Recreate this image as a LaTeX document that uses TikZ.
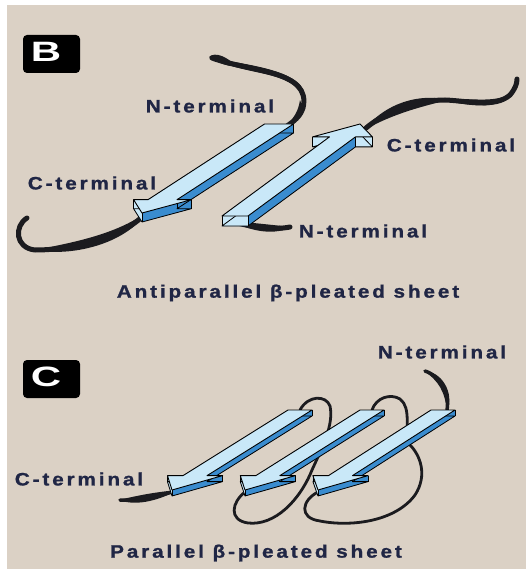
\documentclass[tikz,border=0pt]{standalone}
\usepackage{fontspec}
\setmainfont{Liberation Sans}
\newfontfamily\labelfont{Liberation Sans Bold}[FakeStretch=1.15,LetterSpace=16,FakeBold=1.2]
\newfontfamily\tagfont{Liberation Sans Bold}[FakeStretch=1.5]
\usetikzlibrary{calc}

\definecolor{paper}{HTML}{DBD1C5}
\definecolor{facelight}{HTML}{C9E8F8}
\definecolor{facedark}{HTML}{3A8CCF}
\definecolor{ink}{HTML}{1B1B1F}
\definecolor{labelink}{HTML}{202645}

\tikzset{
  tag/.style={fill=black, rounded corners=4pt, minimum width=57pt, minimum height=38pt,
    inner sep=0pt},
  tagletter/.style={text=white, inner sep=0pt, font=\tagfont\fontsize{28}{28}\selectfont},
  lbl/.style={inner sep=0pt, text=labelink, font=\labelfont\fontsize{18}{18}\selectfont},
  chain/.style={draw=ink, line width=5pt, line cap=round, line join=round},
  thinchain/.style={draw=ink, line width=2.8pt, line cap=round, line join=round},
  topface/.style={fill=facelight, draw=black, line width=0.9pt, line join=round},
  sideface/.style={fill=facedark},
  capface/.style={fill=facelight},
  rim/.style={draw=black, line width=0.8pt, line join=round},
}

% A beta strand drawn as a flat arrow plate with a thickness.
% #1 name, #2 tail centre, #3 tip, #4 half-width vector, #5 head base (fraction),
% #6 head widening factor, #7 thickness, #8 end faces that are drawn light
\newcommand\strand[8]{%
  \coordinate (#1-t) at #2;
  \coordinate (#1-p) at #3;
  \coordinate (#1-a) at ($(#1-t)+#4$);
  \coordinate (#1-b) at ($(#1-t)-#4$);
  \coordinate (#1-m) at ($(#1-t)!#5!(#1-p)$);
  \coordinate (#1-c) at ($(#1-m)+#4$);
  \coordinate (#1-d) at ($(#1-m)-#4$);
  \coordinate (#1-e) at ($(#1-m)+#6*#4$);
  \coordinate (#1-f) at ($(#1-m)-#6*#4$);
  \foreach \u in {a,b,c,d,e,f,p} {\coordinate (#1-\u') at ($(#1-\u)+(0,#7)$);}
  % side walls
  \fill[sideface] (#1-a') -- (#1-c') -- (#1-e') -- (#1-p') -- (#1-f') -- (#1-d') -- (#1-b') -- cycle;
  \foreach \u/\v in {a/c,c/e,e/p,p/f,f/d,d/b,b/a}
    {\fill[sideface] (#1-\u) -- (#1-\v) -- (#1-\v') -- (#1-\u') -- cycle;}
  \foreach \u/\v in {#8}
    {\fill[capface] (#1-\u) -- (#1-\v) -- (#1-\v') -- (#1-\u') -- cycle;}
  \draw[rim] (#1-a') -- (#1-c') -- (#1-e') -- (#1-p') -- (#1-f') -- (#1-d') -- (#1-b') -- cycle;
  \foreach \u in {a,b,c,d,e,f,p} {\draw[rim] (#1-\u) -- (#1-\u');}
  % upper face
  \path[topface] (#1-a) -- (#1-c) -- (#1-e) -- (#1-p) -- (#1-f) -- (#1-d) -- (#1-b) -- cycle;
}

% A brush-like swelling laid over one cubic piece of a chain:
% #1 start, #2 first control, #3 second control, #4 end, #5 swelling
\newcommand\brush[5]{%
  \fill[ink] #1 .. controls ($#2!#5!-90:#1$) and ($#3!#5!90:#4$) .. #4
     .. controls ($#3!#5!-90:#4$) and ($#2!#5!90:#1$) .. #1 -- cycle;
}

\begin{document}
\begin{tikzpicture}[x=1pt, y=-1pt]
  \useasboundingbox (0,0) rectangle (526,569);
  \fill[white] (0,0) rectangle (526,569);
  \fill[paper] (7,5) rectangle (526,569);

  % ---------------- panel B: antiparallel sheet ----------------
  \node[tag] (tagB) at (51.5,54) {};
  \node[tagletter] (letterB) at (46,52) {B};

  % chain segments behind the strands
  \draw[chain] (212,58) .. controls (250,72) and (312,70) .. (303,108)
               .. controls (300,117) and (294,121) .. (287,126);
  \brush{(212,58)}{(250,72)}{(312,70)}{(303,108)}{6.5pt}
  \brush{(300,100)}{(302,112)}{(296,120)}{(287,126)}{4pt}
  \brush{(209,57)}{(216,56)}{(226,62)}{(236,66)}{5pt}
  \draw[chain] (145,214) .. controls (120,240) and (70,250) .. (35,250)
               .. controls (15,248) and (14,226) .. (27,218);
  \brush{(147,212)}{(120,240)}{(70,250)}{(35,250)}{7pt}
  \brush{(40,250)}{(15,249)}{(14,226)}{(27,218)}{4pt}
  \draw[chain] (234,222) .. controls (255,228) and (275,230) .. (290,227);
  \brush{(232,221)}{(255,228)}{(275,230)}{(291,227)}{5pt}
  \draw[chain] (366,128) .. controls (390,108) and (420,100) .. (445,100)
               .. controls (470,101) and (495,108) .. (510,95)
               .. controls (515,89) and (517,84) .. (517,79);
  \brush{(364,130)}{(390,108)}{(420,100)}{(448,100)}{7pt}
  \brush{(440,100)}{(470,101)}{(495,108)}{(512,93)}{4.5pt}

  \strand{bl}{(279,124)}{(142,213)}{(14.5,0)}{0.85}{2}{9}{p/f}
  \strand{br}{(235,216)}{(360,124)}{(13,0)}{0.86}{2.3}{10}{a/b,c/e,d/f}

  \node[lbl] (bN1) at (210,106) {N-terminal};
  \node[lbl] (bC1) at (92,183) {C-terminal};
  \node[lbl] (bC2) at (451,145) {C-terminal};
  \node[lbl] (bN2) at (363,231) {N-terminal};
  \node[lbl] (capB) at (288,293) {Antiparallel β-pleated sheet};

  % ---------------- panel C: parallel sheet ----------------
  \node[tag] (tagC) at (51.5,379) {};
  \node[tagletter] (letterC) at (46,377) {C};

  % connecting loops, passing behind the strands
  \draw[thinchain] (245,492) .. controls (232,502) and (228,520) .. (248,523)
                   .. controls (275,526) and (300,500) .. (312,470)
                   .. controls (322,448) and (334,425) .. (330,406)
                   .. controls (326,395) and (308,395) .. (300,410);
  \draw[thinchain] (318,492) .. controls (302,500) and (298,518) .. (320,521)
                   .. controls (350,527) and (395,522) .. (415,495)
                   .. controls (428,475) and (420,455) .. (410,445)
                   .. controls (404,430) and (412,408) .. (400,399)
                   .. controls (390,393) and (376,398) .. (372,410);
  % chain ends
  \draw[chain, line width=3.5pt] (172,492) .. controls (155,497) and (135,501) .. (120,500);
  \brush{(178,490)}{(155,497)}{(135,501)}{(119,500)}{5pt}
  \draw[chain, line width=3.5pt] (425,371) .. controls (440,376) and (450,392) .. (447,410);
  \brush{(424,371)}{(440,376)}{(450,392)}{(447,412)}{5pt}

  \strand{c1}{(300,410)}{(172,490)}{(12,0)}{0.82}{2.3}{6}{p/f}
  \strand{c2}{(372,410)}{(245,490)}{(12,0)}{0.82}{2.3}{6}{p/f}
  \strand{c3}{(443,410)}{(318,490)}{(12,0)}{0.82}{2.3}{6}{p/f}

  \node[lbl] (cN) at (442,352) {N-terminal};
  \node[lbl] (cC) at (79,479) {C-terminal};
  \node[lbl] (capC) at (256,553) {Parallel β-pleated sheet};
\end{tikzpicture}
\end{document}
